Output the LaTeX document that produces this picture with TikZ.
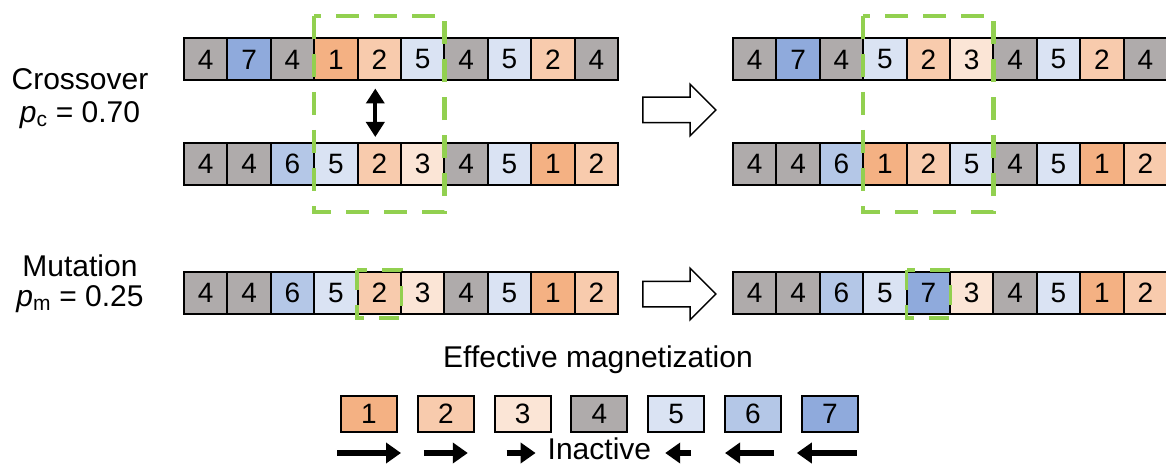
\documentclass[tikz,border=0pt]{standalone}
\usepackage{fontspec}
\setmainfont{Liberation Sans}
\usetikzlibrary{arrows.meta,shapes.arrows}

\definecolor{mag1}{HTML}{F4B183}
\definecolor{mag2}{HTML}{F8CBAD}
\definecolor{mag3}{HTML}{FBE5D6}
\definecolor{mag4}{HTML}{AFABAB}
\definecolor{mag5}{HTML}{DAE3F3}
\definecolor{mag6}{HTML}{B4C7E7}
\definecolor{mag7}{HTML}{8FAADC}
\definecolor{swapgreen}{HTML}{92D050}

\tikzset{
  cell/.style={draw, line width=2pt, minimum width=43.4pt, minimum height=42pt,
    inner sep=0pt, font=\fontsize{28}{32}\selectfont},
  keycell/.style={cell, minimum width=56pt, minimum height=36pt},
  txt/.style={font=\fontsize{30}{34}\selectfont, inner sep=0pt},
  swapbox/.style={draw=swapgreen, line width=4.5pt, dash pattern=on 23pt off 15pt},
  mutbox/.style={draw=swapgreen, line width=3.5pt, dash pattern=on 20pt off 15pt},
  bigarrow/.style={single arrow, draw, fill=white, line width=1.5pt, inner sep=0pt,
    minimum height=73pt, minimum width=50pt, single arrow head extend=13pt},
  swaparrow/.style={line width=4pt, {Triangle[width=18pt,length=15pt]}-{Triangle[width=18pt,length=15pt]}},
  dirarrow/.style={line width=6pt, -{Triangle[width=20pt,length=15pt]}}
}

\begin{document}
\begin{tikzpicture}[x=1pt,y=-1pt]
  \path[use as bounding box, fill=white] (0,0) rectangle (1166,465);

  % labels
  \node[txt] (xname) at (80,79) {Crossover};
  \node[txt] (xprob) at (80,115) {\textit{p}\textsubscript{c} = 0.70};
  \node[txt] (mname) at (80,266) {Mutation};
  \node[txt] (mprob) at (80,299) {\textit{p}\textsubscript{m} = 0.25};

  % parents
  \foreach \v [count=\i] in {4,7,4,1,2,5,4,5,2,4}
    \node[cell, fill=mag\v] (pa\i) at ({184+43.4*(\i-0.5)},59.5) {\v};
  \foreach \v [count=\i] in {4,4,6,5,2,3,4,5,1,2}
    \node[cell, fill=mag\v] (pb\i) at ({184+43.4*(\i-0.5)},164) {\v};

  % children
  \foreach \v [count=\i] in {4,7,4,5,2,3,4,5,2,4}
    \node[cell, fill=mag\v] (ca\i) at ({733+43.4*(\i-0.5)},59.5) {\v};
  \foreach \v [count=\i] in {4,4,6,1,2,5,4,5,1,2}
    \node[cell, fill=mag\v] (cb\i) at ({733+43.4*(\i-0.5)},164) {\v};

  % mutation
  \foreach \v [count=\i] in {4,4,6,5,2,3,4,5,1,2}
    \node[cell, fill=mag\v] (mu\i) at ({184+43.4*(\i-0.5)},293) {\v};
  \foreach \v [count=\i] in {4,4,6,5,7,3,4,5,1,2}
    \node[cell, fill=mag\v] (mv\i) at ({733+43.4*(\i-0.5)},293) {\v};

  \draw[swapbox] (314.2,16) rectangle (444.4,212);
  \draw[swapbox] (863.2,16) rectangle (993.4,212);
  \draw[mutbox] (357,270) rectangle (401.5,318);
  \draw[mutbox] (906.6,270) rectangle (950.5,318);

  \draw[swaparrow, shorten <=7pt, shorten >=5pt] ([xshift=-4pt]pa5.south) -- ([xshift=-4pt]pb5.north);

  \node[bigarrow] (xarrow) at (673,110) {\rule{0pt}{24pt}};
  \node[bigarrow] (marrow) at (673,294) {\rule{0pt}{24pt}};

  % legend
  \node[txt] (keytitle) at (598,360) {Effective magnetization};
  \foreach \v in {1,...,7}
    \node[keycell, fill=mag\v] (lg\v) at ({369+76.8*(\v-1)},414) {\v};
  \node[txt] (inactive) at ([yshift=-35pt]lg4.center) {Inactive};
  \foreach \v/\a/\b in {1/-32/32, 2/-22/22, 3/-16/13, 5/15/-11, 6/21/-28, 7/27/-33}
    \draw[dirarrow] ([xshift=\a pt,yshift=-39pt]lg\v.center) -- ([xshift=\b pt,yshift=-39pt]lg\v.center);
\end{tikzpicture}
\end{document}
